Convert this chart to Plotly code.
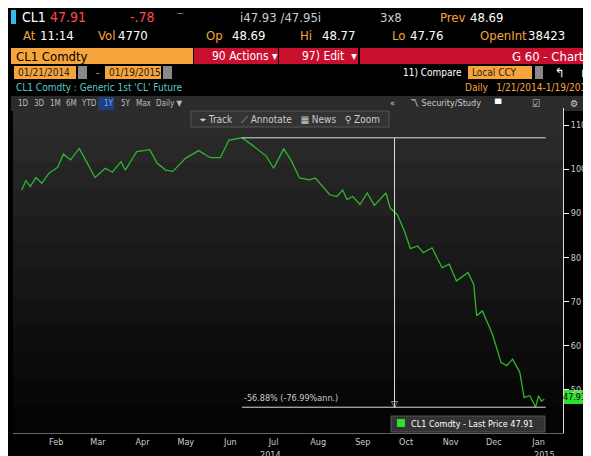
import plotly.graph_objects as go

dates = ["2014-01-21","2014-01-24","2014-01-27","2014-01-31","2014-02-04","2014-02-09","2014-02-15","2014-02-19",
"2014-02-24","2014-03-02","2014-03-07","2014-03-13","2014-03-20","2014-03-25","2014-03-31","2014-04-03",
"2014-04-11","2014-04-20","2014-04-25","2014-05-01","2014-05-06","2014-05-15","2014-05-24","2014-06-01",
"2014-06-08","2014-06-14","2014-06-23","2014-06-30","2014-07-10","2014-07-15","2014-07-22","2014-07-27",
"2014-08-02","2014-08-09","2014-08-13","2014-08-18","2014-08-23","2014-08-28","2014-09-01","2014-09-04",
"2014-09-08","2014-09-13","2014-09-18","2014-09-23","2014-10-01","2014-10-04","2014-10-09","2014-10-14",
"2014-10-18","2014-10-23","2014-10-27","2014-11-02","2014-11-09","2014-11-14","2014-11-19","2014-11-27",
"2014-12-01","2014-12-03","2014-12-07","2014-12-14","2014-12-20","2014-12-24","2014-12-28","2015-01-02",
"2015-01-05","2015-01-09","2015-01-13","2015-01-15","2015-01-17","2015-01-19"]
prices = [95.3,97.4,96.1,98.1,96.8,99.1,100.4,103.4,102.1,104.7,101.7,98.1,100.2,99.3,101.7,99.8,
104.0,104.4,101.4,99.8,99.5,102.5,104.2,102.6,102.6,106.6,107.1,105.5,102.9,100.2,104.6,102.1,
98.0,97.6,98.0,96.1,94.2,93.8,95.3,93.1,93.8,92.0,94.6,91.8,94.6,91.2,89.7,85.9,82.0,82.6,81.1,
82.2,77.7,78.5,74.7,76.6,73.9,66.8,67.9,62.6,56.2,55.5,57.0,54.0,48.3,48.7,46.1,48.7,47.5,47.91]
yticks = [50, 60, 70, 80, 90, 100, 110]
month_ticks = ["2014-01-14","2014-02-14","2014-03-15","2014-04-15","2014-05-15","2014-06-15","2014-07-15",
               "2014-08-15","2014-09-15","2014-10-15","2014-11-15","2014-12-15","2015-01-15"]
month_labels = ["Jan","Feb","Mar","Apr","May","Jun","Jul","Aug","Sep","Oct","Nov","Dec","Jan"]

W, H = 591, 456
def px(x): return x / W
def py(y): return 1 - y / H
FN = "DejaVu Sans Condensed"

fig = go.Figure()
fig.add_trace(go.Scatter(x=dates, y=prices, mode="lines", line=dict(color="#2fb52f", width=1.3),
                         showlegend=False, hoverinfo="skip"))

shapes, ann = [], []
def rect(x0, y0, x1, y1, fill, line=None):
    shapes.append(dict(type="rect", xref="paper", yref="paper", x0=px(x0), x1=px(x1), y0=py(y1), y1=py(y0),
                       fillcolor=fill, line=dict(width=1 if line else 0, color=line or fill), layer="below"))
def text(x, y, t, color="white", size=12, anchor="left"):
    ann.append(dict(xref="paper", yref="paper", x=px(x), y=py(y), text=t, showarrow=False, xanchor=anchor,
                    yanchor="middle", font=dict(color=color, size=size, family=FN)))

top, bot = 100, 425
n = 12
for i in range(n):
    c = int(44 - 40 * i / (n - 1))
    rect(5, top + (bot - top) * i / n, 555, top + (bot - top) * (i + 1) / n + 1, f"rgb({c},{c},{c})")

OR, RD, WH = "#f7a53a", "#c8102e", "white"
rect(3, 2, 8, 16, "#3ab8ea")
text(12, 9, "CL1", WH, 14); text(40, 9, "47.91", "#ff4b4b", 14); text(120, 9, "-.78", "#ff4b4b", 14)
text(165, 9, "⌒", "#cccccc", 10)
text(230, 9, "i47.93 /47.95i", "#cccccc", 13); text(370, 9, "3x8", "#cccccc", 13)
text(430, 9, "Prev", OR, 13); text(460, 9, "48.69", WH, 13)
for x, t, c in [(13,"At",OR),(30,"11:14",WH),(88,"Vol",OR),(108,"4770",WH),(196,"Op",OR),(222,"48.69",WH),
                (290,"Hi",OR),(312,"48.77",WH),(382,"Lo",OR),(400,"47.76",WH),(470,"OpenInt",OR),(518,"38423",WH)]:
    text(x, 28, t, c, 13)
rect(3, 40, 185, 56, OR); rect(186, 40, 270, 56, RD); rect(271, 40, 350, 56, RD); rect(352, 40, 588, 56, RD)
text(6, 48, "CL1 Comdty", "black", 13); text(202, 48, "90 Actions ▾", WH, 12); text(292, 48, "97) Edit  ▾", WH, 12)
text(584, 48, "G 60 - Charts", WH, 13, "right")
rect(6, 58, 68, 71, OR); rect(70, 58, 79, 71, "#888888"); rect(97, 58, 153, 71, OR); rect(155, 58, 164, 71, "#888888")
text(8, 64.5, "01/21/2014", "#222", 10); text(86, 64.5, "-", OR, 10); text(99, 64.5, "01/19/2015", "#222", 10)
text(456, 64.5, "11) Compare", WH, 10, "right"); rect(460, 58, 524, 71, OR); text(462, 64.5, "Local CCY", "#222", 10)
rect(527, 58, 535, 71, "#888888"); text(552, 64.5, "↰", WH, 13, "center"); text(577, 64.5, "↱", WH, 13, "center")
text(6, 79, "CL1 Comdty : Generic 1st 'CL' Future", "#5cc9c9", 10)
text(586, 79, "Daily   1/21/2014-1/19/2015", OR, 10, "right")
rect(3, 88, 588, 103, "#2b2b2b")
for x, t in [(8,"1D"),(24,"3D"),(40,"1M"),(56,"6M"),(71,"YTD"),(94,"1Y"),(111,"5Y"),(126,"Max"),(146,"Daily ▼")]:
    if t == "1Y": rect(x-4, 89, x+12, 102, "#1f3f7a")
    text(x, 95.5, t, "#7fb0ff" if t == "1Y" else "#bbbbbb", 8)
text(380, 95.5, "«", "#cccccc", 9); text(400, 95.5, "〽 Security/Study", "#cccccc", 9); text(490, 95.5, "▀", WH, 9, "center")
text(528, 95.5, "☑", "#cccccc", 10, "center"); text(566, 95.5, "⚙", "#cccccc", 10, "center")
rect(183, 103, 381, 119, "#333333", "#555555")
text(282, 111, "⌖ Track   ⟋ Annotate   ▦ News   ⚲ Zoom", "#cccccc", 10, "center")
rect(383, 408, 537, 424, "#333333", "#555555"); rect(389, 411, 397, 419, "#2fe02f")
text(401, 415.5, "CL1 Comdty - Last Price 47.91", WH, 9)
rect(556, 382, 576, 396, "#2fe02f"); text(566, 389, "47.91", "black", 9, "center")
text(262, 447, "2014", "#cccccc", 9, "center"); text(536, 447, "2015", "#cccccc", 9, "center")

lc = "#dddddd"
for d in [dict(x0="2014-06-23", x1="2015-01-20", y0=107.1, y1=107.1),
          dict(x0="2014-10-07", x1="2014-10-07", y0=107.1, y1=46.1),
          dict(x0="2014-06-23", x1="2015-01-20", y0=46.1, y1=46.1)]:
    shapes.append(dict(type="line", xref="x", yref="y", line=dict(color=lc, width=1), **d))
ann.append(dict(x="2014-10-07", y=46.9, xref="x", yref="y", text="▽", showarrow=False, font=dict(color=lc, size=9)))
ann.append(dict(x="2014-06-23", y=46.6, xref="x", yref="y", text="-56.88% (-76.99%ann.)", showarrow=False,
                xanchor="left", yanchor="bottom", font=dict(color="#cccccc", size=9, family=FN)))

fig.update_layout(
    width=W, height=H, margin=dict(l=0, r=0, t=0, b=0),
    paper_bgcolor="black", plot_bgcolor="rgba(0,0,0,0)", shapes=shapes, annotations=ann,
    xaxis=dict(domain=[px(5), px(555)], range=["2014-01-15", "2015-02-01"], type="date",
               tickvals=month_ticks, ticktext=month_labels, showgrid=False, zeroline=False,
               ticks="", showline=True, linecolor="#666",
               tickfont=dict(color="#cccccc", size=9, family=FN)),
    yaxis=dict(domain=[py(425), py(100)], range=[40.26, 113.85], side="right", tickvals=yticks,
               showgrid=False, zeroline=False, ticks="outside", ticklen=5, tickcolor="white",
               showline=True, linecolor="#dddddd",
               tickfont=dict(color="#cccccc", size=9, family=FN)),
)
fig.write_html("out.html")
